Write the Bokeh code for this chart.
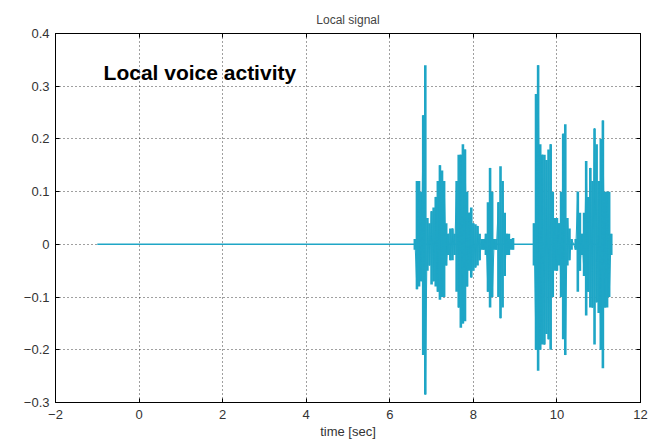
from bokeh.plotting import figure
from bokeh.models import Range1d, FixedTicker, LinearAxis
from bokeh.core.properties import value
from bokeh.embed import file_html
from bokeh.resources import INLINE

title_text = "Local signal"
x_label = "time [sec]"
note_text = "Local voice activity"
note_x = [-0.85]
note_y = [0.326]

x_ticks = [-2, 0, 2, 4, 6, 8, 10, 12]
x_tick_labels = ["\u22122", "0", "2", "4", "6", "8", "10", "12"]
y_ticks = [-0.3, -0.2, -0.1, 0.0, 0.1, 0.2, 0.3, 0.4]
y_tick_labels = ["\u22120.3", "\u22120.2", "\u22120.1", "0", "0.1", "0.2", "0.3", "0.4"]

# flat (silent) baseline of the recording
silence_t = [-1.0, 11.3]
silence_v = [0.0, 0.0]

# envelope of the speech part
env_t = [6.60, 6.65, 6.70, 6.75, 6.80, 6.85, 6.90, 6.95, 7.00, 7.05,
         7.10, 7.15, 7.20, 7.25, 7.30, 7.35, 7.40, 7.45, 7.50, 7.55,
         7.60, 7.65, 7.70, 7.75, 7.80, 7.85, 7.90, 7.95, 8.00, 8.05,
         8.10, 8.15, 8.20, 8.25, 8.30, 8.35, 8.40, 8.45, 8.50, 8.55,
         8.60, 8.65, 8.70, 8.75, 8.80, 8.85, 8.90, 8.95,
         9.45, 9.50, 9.55, 9.60, 9.65, 9.70, 9.75,
         9.80, 9.85, 9.90, 9.95, 10.00, 10.05, 10.10, 10.15, 10.20, 10.25,
         10.30, 10.35, 10.45, 10.50, 10.55, 10.60, 10.65, 10.70, 10.75,
         10.80, 10.85, 10.90, 10.95, 11.00, 11.05, 11.10, 11.15, 11.20, 11.25,
         11.30]
env_hi = [0.01, 0.12, 0.12, 0.10, 0.245, 0.34, 0.05, 0.04, 0.063, 0.07,
          0.09, 0.12, 0.15, 0.14, 0.12, 0.04, 0.02, 0.03, 0.03, 0.02,
          0.12, 0.17, 0.17, 0.19, 0.18, 0.10, 0.06, 0.07, 0.04, 0.038,
          0.035, 0.02, 0.01, 0.01, 0.02, 0.08, 0.145, 0.10, 0.01, 0.01,
          0.08, 0.148, 0.12, 0.06, 0.02, 0.02, 0.01, 0.012,
          0.04, 0.285, 0.34, 0.19, 0.17, 0.17, 0.16,
          0.18, 0.19, 0.10, 0.05, 0.05, 0.04, 0.10, 0.21, 0.228, 0.05,
          0.03, 0.01, 0.01, 0.10, 0.06, 0.02, 0.06, 0.158, 0.09,
          0.145, 0.12, 0.22, 0.19, 0.12, 0.20, 0.235, 0.10, 0.10, 0.10,
          0.02]
env_lo = [-0.01, -0.085, -0.08, -0.07, -0.21, -0.285, -0.05, -0.04, -0.076, -0.07,
          -0.08, -0.09, -0.105, -0.10, -0.10, -0.04, -0.02, -0.03, -0.03, -0.02,
          -0.09, -0.12, -0.158, -0.15, -0.146, -0.08, -0.05, -0.063, -0.05, -0.044,
          -0.04, -0.03, -0.01, -0.01, -0.02, -0.09, -0.12, -0.10, -0.01, -0.01,
          -0.10, -0.14, -0.12, -0.06, -0.02, -0.02, -0.01, -0.01,
          -0.04, -0.20, -0.24, -0.20, -0.19, -0.19, -0.17,
          -0.18, -0.20, -0.10, -0.05, -0.05, -0.04, -0.10, -0.18, -0.21, -0.04,
          -0.03, -0.01, -0.01, -0.09, -0.05, -0.02, -0.06, -0.135, -0.09,
          -0.12, -0.12, -0.19, -0.11, -0.13, -0.20, -0.235, -0.12, -0.12, -0.10,
          -0.02]

SIG = "#1fa6c6"
FONT = "Liberation Sans"

p = figure(width=658, height=442, output_backend="svg", toolbar_location=None,
           x_range=Range1d(-2, 12), y_range=Range1d(-0.3, 0.4),
           min_border_left=55, min_border_right=18, min_border_top=33, min_border_bottom=40)
p.title.text = title_text
p.title.align = "center"
p.title.text_font = FONT
p.title.text_font_style = "normal"
p.title.text_font_size = "12px"
p.title.text_color = "#444444"
p.title.standoff = 14

p.outline_line_color = "black"
p.outline_line_width = 1
p.background_fill_color = "white"
p.border_fill_color = "white"

p.xaxis.ticker = FixedTicker(ticks=x_ticks)
p.yaxis.ticker = FixedTicker(ticks=y_ticks)
p.xaxis.major_label_overrides = {t: l for t, l in zip(x_ticks, x_tick_labels)}
p.yaxis.major_label_overrides = {t: l for t, l in zip(y_ticks, y_tick_labels)}
p.xaxis.axis_label = x_label
for ax in (p.xaxis, p.yaxis):
    ax.minor_tick_line_color = None
    ax.major_tick_in = 4
    ax.major_tick_out = 0
    ax.major_tick_line_color = "black"
    ax.axis_line_color = "black"
    ax.major_label_text_font = FONT
    ax.major_label_text_font_size = "13px"
    ax.major_label_text_color = "#333333"
p.xaxis.major_label_standoff = 7
p.yaxis.major_label_standoff = 6
ax = p.xaxis[0]
ax.axis_label_text_font = FONT
ax.axis_label_text_font_size = "13px"
ax.axis_label_text_font_style = "normal"
ax.axis_label_text_color = "#333333"
ax.axis_label_standoff = 2

for side in ("right", "above"):
    a = LinearAxis(ticker=FixedTicker(ticks=x_ticks if side == "above" else y_ticks),
                   major_label_text_font_size="0px", major_tick_in=4, major_tick_out=0,
                   minor_tick_line_color=None, axis_line_color="black",
                   major_label_standoff=0)
    p.add_layout(a, side)

p.grid.grid_line_color = "black"
p.grid.grid_line_dash = "1 3"
p.grid.grid_line_alpha = 0.75
p.xgrid.ticker = FixedTicker(ticks=x_ticks)
p.ygrid.ticker = FixedTicker(ticks=y_ticks)

p.line(silence_t, silence_v, line_color=SIG, line_width=1.5)
p.segment(x0=env_t, y0=env_lo, x1=env_t, y1=env_hi, line_color=SIG, line_width=2.6)

# thin trace joining the read peaks, broken across the pause between phrases
zig_x, zig_y = [], []
for i, (t, h, l) in enumerate(zip(env_t, env_hi, env_lo)):
    if i > 0 and t - env_t[i - 1] > 0.1:
        zig_x.append(float("nan"))
        zig_y.append(float("nan"))
    zig_x.append(t)
    zig_y.append(h if i % 2 == 0 else l)
p.line(zig_x, zig_y, line_color=SIG, line_width=1.0)

p.text(x=note_x, y=note_y, text=[note_text], text_font=value(FONT), text_font_style="bold",
       text_font_size="21px", text_color="black", text_baseline="middle")

open("out.html", "w").write(file_html(p, INLINE))
